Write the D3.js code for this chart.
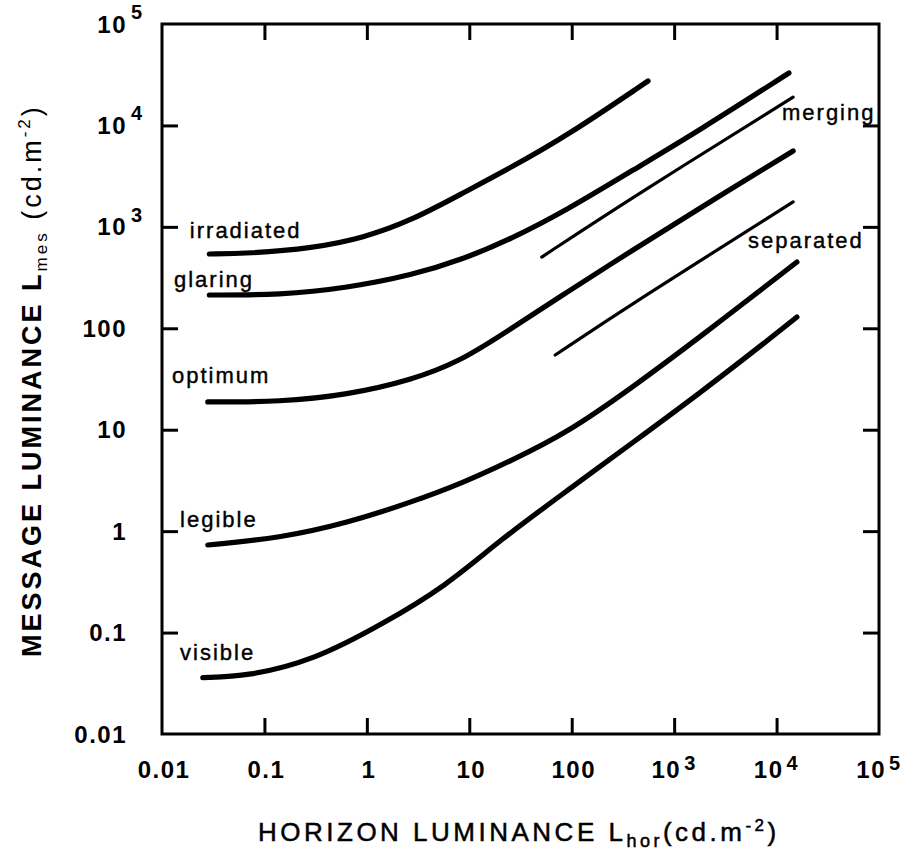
<!DOCTYPE html>
<html>
<head>
<meta charset="utf-8">
<script src="https://cdn.jsdelivr.net/npm/d3@7"></script>
<style>
    body { margin: 0; background: #fff; }
    svg text { font-family: "Liberation Sans", Arial, sans-serif; fill: #000; }
</style>
</head>
<body>
<div id="content"></div>
<script>

// decade ticks, same on both axes
const xTicks = [0.01, 0.1, 1, 10, 100, 1e3, 1e4, 1e5];
const xTickLabels = [["0.01"], ["0.1"], ["1"], ["10"], ["100"], ["10", "3"], ["10", "4"], ["10", "5"]];
const yTicks = [0.01, 0.1, 1, 10, 100, 1e3, 1e4, 1e5];
const yTickLabels = [["0.01"], ["0.1"], ["1"], ["10"], ["100"], ["10", "3"], ["10", "4"], ["10", "5"]];

// curves: [horizon luminance, message luminance]
const irradiated = [[0.029, 540], [0.068, 545], [0.30, 618], [0.92, 776], [2.8, 1170], [8.7, 2160], [25, 3800], [90, 7900], [556, 27400]];
const glaring = [[0.029, 213], [0.142, 213], [0.64, 250], [2.8, 335], [8.7, 480], [25, 750], [90, 1466], [396, 3630], [1786, 9000], [13200, 32900]];
const merging = [[51, 504], [396, 1970], [14500, 19000]];
const optimum = [[0.028, 18.8], [0.142, 18.8], [0.64, 22], [2.8, 31], [8.1, 47.5], [20, 84], [90, 228], [396, 591], [1786, 1535], [14500, 5600]];
const separated = [[69, 54.5], [396, 177], [14500, 1760]];
const legible = [[0.028, 0.73], [0.142, 0.855], [0.64, 1.2], [2.8, 1.95], [8.7, 3.0], [25, 4.9], [90, 9.3], [396, 26.4], [1786, 82], [15800, 450]];
const visible = [[0.025, 0.036], [0.068, 0.037], [0.30, 0.053], [1.4, 0.12], [6.0, 0.29], [20, 0.82], [90, 2.5], [396, 7.5], [1786, 23], [8060, 75], [15800, 129]];

const curveNames = ["irradiated", "glaring", "merging", "optimum", "separated", "legible", "visible"];
const curveData = [irradiated, glaring, merging, optimum, separated, legible, visible];
const curveThin = [false, false, true, false, true, false, false];

// label anchors (left end of baseline), in data units
const labelX = [0.0187, 0.0131, 11300, 0.0125, 5260, 0.0150, 0.0150];
const labelY = [776, 255, 11300, 28.9, 618, 1.10, 0.0537];

let svg, x, y;
const width = 910, height = 855;

function init() {
    svg = d3.select("#content").append("svg")
        .attr("width", width)
        .attr("height", height);

    x = d3.scaleLog().domain([0.01, 1e5]).range([162, 879]);
    y = d3.scaleLog().domain([0.01, 1e5]).range([734, 24]);

    drawAxes();
    drawCurves();
    drawTitles();
}

function drawAxes() {
    const inner = xTicks.slice(1, -1);

    // ticks point inwards on all four sides
    const axes = [
        [d3.axisBottom(x), `translate(0,${y.range()[0]})`],
        [d3.axisTop(x), `translate(0,${y.range()[1]})`],
        [d3.axisLeft(y), `translate(${x.range()[0]},0)`],
        [d3.axisRight(y), `translate(${x.range()[1]},0)`],
    ];
    axes.forEach(([ax, tr]) => {
        ax.tickValues(inner).tickSizeInner(-16).tickSizeOuter(0).tickFormat("");
        const g = svg.append("g").attr("transform", tr).call(ax);
        g.select(".domain").remove();
        g.selectAll(".tick line").attr("stroke", "#000").attr("stroke-width", 3);
    });

    svg.append("rect")
        .attr("x", x.range()[0])
        .attr("y", y.range()[1])
        .attr("width", x.range()[1] - x.range()[0])
        .attr("height", y.range()[0] - y.range()[1])
        .attr("fill", "none")
        .attr("stroke", "#000")
        .attr("stroke-width", 3);

    // y tick labels
    const yl = svg.append("g").attr("font-size", 24).attr("font-weight", "bold");
    yTicks.forEach((v, i) => {
        const lab = yTickLabels[i];
        yl.append("text")
            .attr("x", 127)
            .attr("y", y(v))
            .attr("dy", "0.36em")
            .attr("text-anchor", "end")
            .attr("letter-spacing", 1.5)
            .text(lab[0]);
        if (lab[1]) {
            yl.append("text")
                .attr("x", 131)
                .attr("y", y(v) - 5)
                .attr("font-size", 20)
                .text(lab[1]);
        }
    });

    // x tick labels
    const xl = svg.append("g").attr("font-size", 24).attr("font-weight", "bold");
    xTicks.forEach((v, i) => {
        const lab = xTickLabels[i];
        if (lab[1]) {
            xl.append("text")
                .attr("x", x(v) + 7)
                .attr("y", 778)
                .attr("text-anchor", "end")
                .attr("letter-spacing", 1.5)
                .text(lab[0]);
            xl.append("text")
                .attr("x", x(v) + 10)
                .attr("y", 770)
                .attr("font-size", 20)
                .text(lab[1]);
        } else {
            xl.append("text")
                .attr("x", x(v) + 2)
                .attr("y", 778)
                .attr("text-anchor", "middle")
                .attr("letter-spacing", 1.5)
                .text(lab[0]);
        }
    });
}

function drawCurves() {
    const line = d3.line()
        .x(d => x(d[0]))
        .y(d => y(d[1]))
        .curve(d3.curveBasis);

    svg.append("g").selectAll("path")
        .data(curveData)
        .enter()
        .append("path")
        .attr("d", line)
        .attr("fill", "none")
        .attr("stroke", "#000")
        .attr("stroke-width", (d, i) => curveThin[i] ? 3.2 : 5.2)
        .attr("stroke-linecap", "round");

    svg.append("g").selectAll("text")
        .data(curveNames)
        .enter()
        .append("text")
        .attr("x", (d, i) => x(labelX[i]))
        .attr("y", (d, i) => y(labelY[i]))
        .attr("font-size", 22)
        .attr("letter-spacing", 2)
        .attr("stroke", "#000")
        .attr("stroke-width", 0.4)
        .text(d => d);
}

function drawTitles() {
    // x title
    const xt = svg.append("text")
        .attr("x", 258)
        .attr("y", 841)
        .attr("font-size", 26)
        .attr("letter-spacing", 3.5)
        .attr("stroke", "#000")
        .attr("stroke-width", 0.5);
    xt.append("tspan").text("HORIZON LUMINANCE L");
    xt.append("tspan").attr("font-size", 18).attr("dy", 6).text("hor");
    xt.append("tspan").attr("dy", -6).text("(cd.m");
    xt.append("tspan").attr("font-size", 17).attr("dy", -10).text("-2");
    xt.append("tspan").attr("dy", 10).text(")");

    // y title, reads bottom to top
    const yt = svg.append("text")
        .attr("transform", "translate(41,657) rotate(-90)")
        .attr("font-size", 27)
        .attr("font-weight", "bold")
        .attr("letter-spacing", 3);
    yt.append("tspan").text("MESSAGE LUMINANCE L");
    yt.append("tspan").attr("font-size", 17).attr("font-weight", "normal").attr("dy", 6).text("mes");
    yt.append("tspan").attr("font-weight", "normal").attr("dy", -6).text(" (cd.m");
    yt.append("tspan").attr("font-size", 17).attr("font-weight", "normal").attr("dy", -11).text("-2");
    yt.append("tspan").attr("font-weight", "normal").attr("dy", 11).text(")");
}

init();
</script>
</body>
</html>
